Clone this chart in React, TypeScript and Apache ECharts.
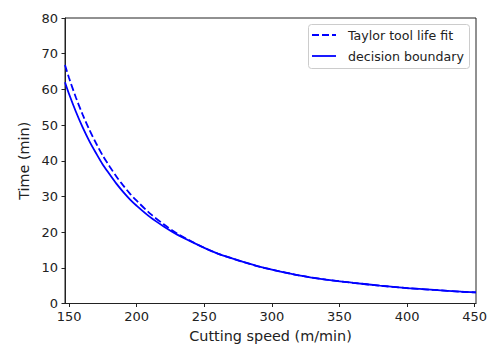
import React, { useEffect, useRef } from "react";
import * as echarts from "echarts";

const speeds = [147, 150, 155, 160, 165, 170, 175, 180, 185, 190, 195, 200, 210, 220, 230, 240, 250, 260, 270, 280, 290, 300, 320, 340, 360, 380, 400, 420, 440, 451];
const taylorFit = [66.8, 63.2, 57.8, 53.0, 48.7, 44.9, 41.4, 38.4, 35.6, 33.1, 30.8, 28.8, 25.2, 22.2, 19.6, 17.5, 15.6, 14.0, 12.7, 11.5, 10.4, 9.5, 7.9, 6.7, 5.8, 5.0, 4.3, 3.8, 3.3, 3.1];
const boundary = [62.0, 58.7, 53.8, 49.4, 45.5, 42.1, 38.9, 36.2, 33.6, 31.3, 29.2, 27.4, 24.2, 21.6, 19.3, 17.4, 15.6, 14.0, 12.7, 11.5, 10.4, 9.5, 7.9, 6.7, 5.8, 5.0, 4.3, 3.8, 3.3, 3.1];
const xTicks = [150, 200, 250, 300, 350, 400, 450];
const legendNames = ["Taylor tool life fit", "decision boundary"];

const FONT = "DejaVu Sans";
const INK = "#222";
const BLUE = "#0000ff";

export default function App() {
  const ref = useRef<HTMLDivElement>(null);
  useEffect(() => {
    if (!ref.current) return;
    const chart = echarts.init(ref.current, undefined, { renderer: "svg" });
    const pairs = (ys: number[]) => speeds.map((x, i) => [x, ys[i]]);
    chart.setOption({
      animation: false,
      backgroundColor: "#fff",
      textStyle: { fontFamily: FONT },
      grid: {
        left: 65, right: 14, top: 18, bottom: 41.5,
        outerBoundsMode: "none", containLabel: false,
        show: true, borderColor: INK, borderWidth: 1, backgroundColor: "transparent",
      },
      xAxis: {
        type: "value",
        min: 147,
        max: 451,
        name: "Cutting speed (m/min)",
        nameLocation: "middle",
        nameGap: 25,
        nameTextStyle: { fontSize: 14.4, color: INK, fontFamily: FONT },
        axisLine: { show: true, lineStyle: { color: INK, width: 1 } },
        axisTick: { show: true, inside: false, length: 3.5, lineStyle: { color: INK }, customValues: xTicks },
        axisLabel: { fontSize: 13, color: INK, margin: 6, fontFamily: FONT, customValues: xTicks, showMinLabel: true, showMaxLabel: true },
        splitLine: { show: false },
      },
      yAxis: {
        type: "value",
        min: 0,
        max: 80,
        interval: 10,
        name: "Time (min)",
        nameLocation: "middle",
        nameGap: 31,
        nameTextStyle: { fontSize: 14.4, color: INK, fontFamily: FONT },
        axisLine: { show: true, lineStyle: { color: INK, width: 1 } },
        axisTick: { show: true, inside: false, length: 3.5, lineStyle: { color: INK } },
        axisLabel: { fontSize: 13, color: INK, margin: 7, fontFamily: FONT },
        splitLine: { show: false },
      },
      series: [
        {
          name: legendNames[0],
          type: "line",
          data: pairs(taylorFit),
          showSymbol: false,
          symbol: "none",
          smooth: 0.3,
          lineStyle: { color: BLUE, width: 1.8, type: [7, 3] },
        },
        {
          name: legendNames[1],
          type: "line",
          data: pairs(boundary),
          showSymbol: false,
          symbol: "none",
          smooth: 0.3,
          lineStyle: { color: BLUE, width: 1.8 },
        },
      ],
      graphic: [
        { type: "rect", shape: { x: 308.5, y: 24.5, width: 161, height: 44, r: 3 }, style: { fill: "rgba(255,255,255,0.8)", stroke: "#cccccc", lineWidth: 1 } },
        { type: "line", shape: { x1: 312, y1: 35, x2: 336, y2: 35 }, style: { stroke: BLUE, lineWidth: 1.8, lineDash: [7, 3] } },
        { type: "line", shape: { x1: 312, y1: 56, x2: 336, y2: 56 }, style: { stroke: BLUE, lineWidth: 1.8 } },
        { type: "text", x: 348, y: 35, style: { text: legendNames[0], fontSize: 12.6, fontFamily: FONT, fill: INK, verticalAlign: "middle", align: "left" } },
        { type: "text", x: 348, y: 56, style: { text: legendNames[1], fontSize: 12.6, fontFamily: FONT, fill: INK, verticalAlign: "middle", align: "left" } },
      ],
    });
    return () => chart.dispose();
  }, []);
  return <div ref={ref} style={{ position: "fixed", left: 0, top: 0, width: 490, height: 345 }} />;
}
